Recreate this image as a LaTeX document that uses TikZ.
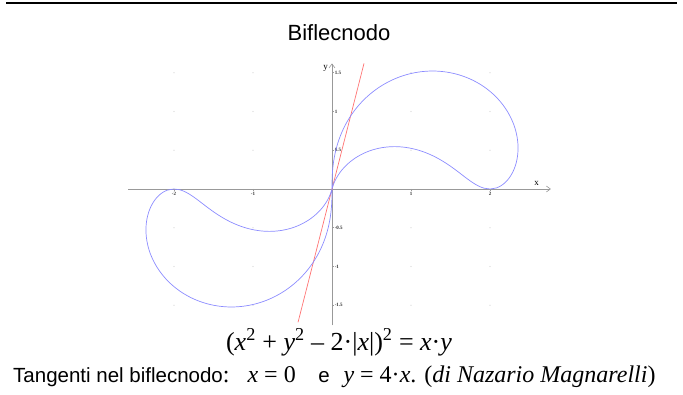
\documentclass[tikz,border=0pt]{standalone}
\usepackage{fontspec}
\setmainfont{Liberation Sans}
\newfontfamily\timesfont{Liberation Serif}
\usetikzlibrary{arrows.meta}

\tikzset{
  axisline/.style={draw=gray!80, line width=0.6pt, -{Straight Barb[length=4pt,width=6pt]}},
  curveline/.style={draw=blue!45!white, line width=0.7pt},
  tangentline/.style={draw=red!55!white, line width=0.7pt},
  ticklabel/.style={font=\timesfont\bfseries\fontsize{5}{5}\selectfont, inner sep=1pt, text=black!80},
  griddot/.style={fill=gray!35, circle, inner sep=0pt, minimum size=1.2pt},
  declare function={rp(\t)=2*cos(\t)+sqrt(abs(sin(\t)*cos(\t)));
                    rm(\t)=2*cos(\t)-sqrt(abs(sin(\t)*cos(\t)));}
}

\begin{document}
\begin{tikzpicture}[x=1pt,y=1pt]
  \useasboundingbox (0,0) rectangle (683,394);
  \draw[line width=1.8pt] (6,391.2) -- (677,391.2);
  \node[font=\fontsize{22}{26}\selectfont, anchor=base] (title) at (339,353) {Biflecnodo};

  \begin{scope}[shift={(332,205)}, x=79pt, y=77.5pt]
    % grid of points
    \foreach \gx in {-2,-1,1,2}
      \foreach \gy in {-1.5,-1,-0.5,0.5,1,1.5}
        \node[griddot] (g\gx\gy) at (\gx,\gy) {};
    % axes
    \coordinate (xs) at (-2.58,0);
    \coordinate (xe) at (2.77,0);
    \coordinate (ys) at (0,-1.76);
    \coordinate (ye) at (0,1.62);
    \draw[axisline] (xs) -- (xe);
    \draw[axisline] (ys) -- (ye);
    \node[font=\timesfont\fontsize{9}{9}\selectfont, inner sep=0pt] (xlabel) at (2.59,0.07) {x};
    \node[font=\timesfont\fontsize{9}{9}\selectfont, inner sep=0pt] (ylabel) at (-0.08,1.55) {y};
    \foreach \tx in {-2,-1,1,2} {
      \draw[gray!80, line width=0.5pt] (\tx,0) -- (\tx,-0.025);
      \node[ticklabel, anchor=north] (tx\tx) at (\tx,-0.02) {\tx};
    }
    \foreach \ty in {-1.5,-1,-0.5,0.5,1,1.5} {
      \draw[gray!80, line width=0.5pt] (0,\ty) -- (0.03,\ty);
      \node[ticklabel, anchor=west] (ty\ty) at (0.02,\ty) {\ty};
    }
    % tangent y = 4x
    \coordinate (tb) at (-0.43,-1.72);
    \coordinate (tt) at (0.405,1.62);
    \draw[tangentline] (tb) -- (tt);
    % the two loops
    \foreach \sg in {1,-1}
      \draw[curveline] plot[domain=90:0, samples=240, variable=\t]
          ({\sg*rp(\t)*cos(\t)}, {\sg*rp(\t)*sin(\t)})
        -- plot[domain=0:75.96, samples=240, variable=\t]
          ({\sg*rm(\t)*cos(\t)}, {\sg*rm(\t)*sin(\t)});
  \end{scope}

  \node[font=\timesfont\fontsize{26}{30}\selectfont, anchor=base] (equation) at (339,44)
    {(\textit{x}\textsuperscript{2} + \textit{y}\textsuperscript{2} – 2·|\textit{x}|)\textsuperscript{2} = \textit{x}·\textit{y}};
  \node[font=\fontsize{20.5}{24}\selectfont, anchor=base west, inner sep=0pt] (caption) at (13,11.7)
    {Tangenti nel biflecnodo{\timesfont\fontsize{24}{26}\selectfont:\hspace{10pt} \textit{x} = 0}\hspace{17pt} e\hspace{8pt}
     {\timesfont\fontsize{24}{26}\selectfont\textit{y} = 4·\textit{x}. (\textit{di Nazario Magnarelli})}};
\end{tikzpicture}
\end{document}
